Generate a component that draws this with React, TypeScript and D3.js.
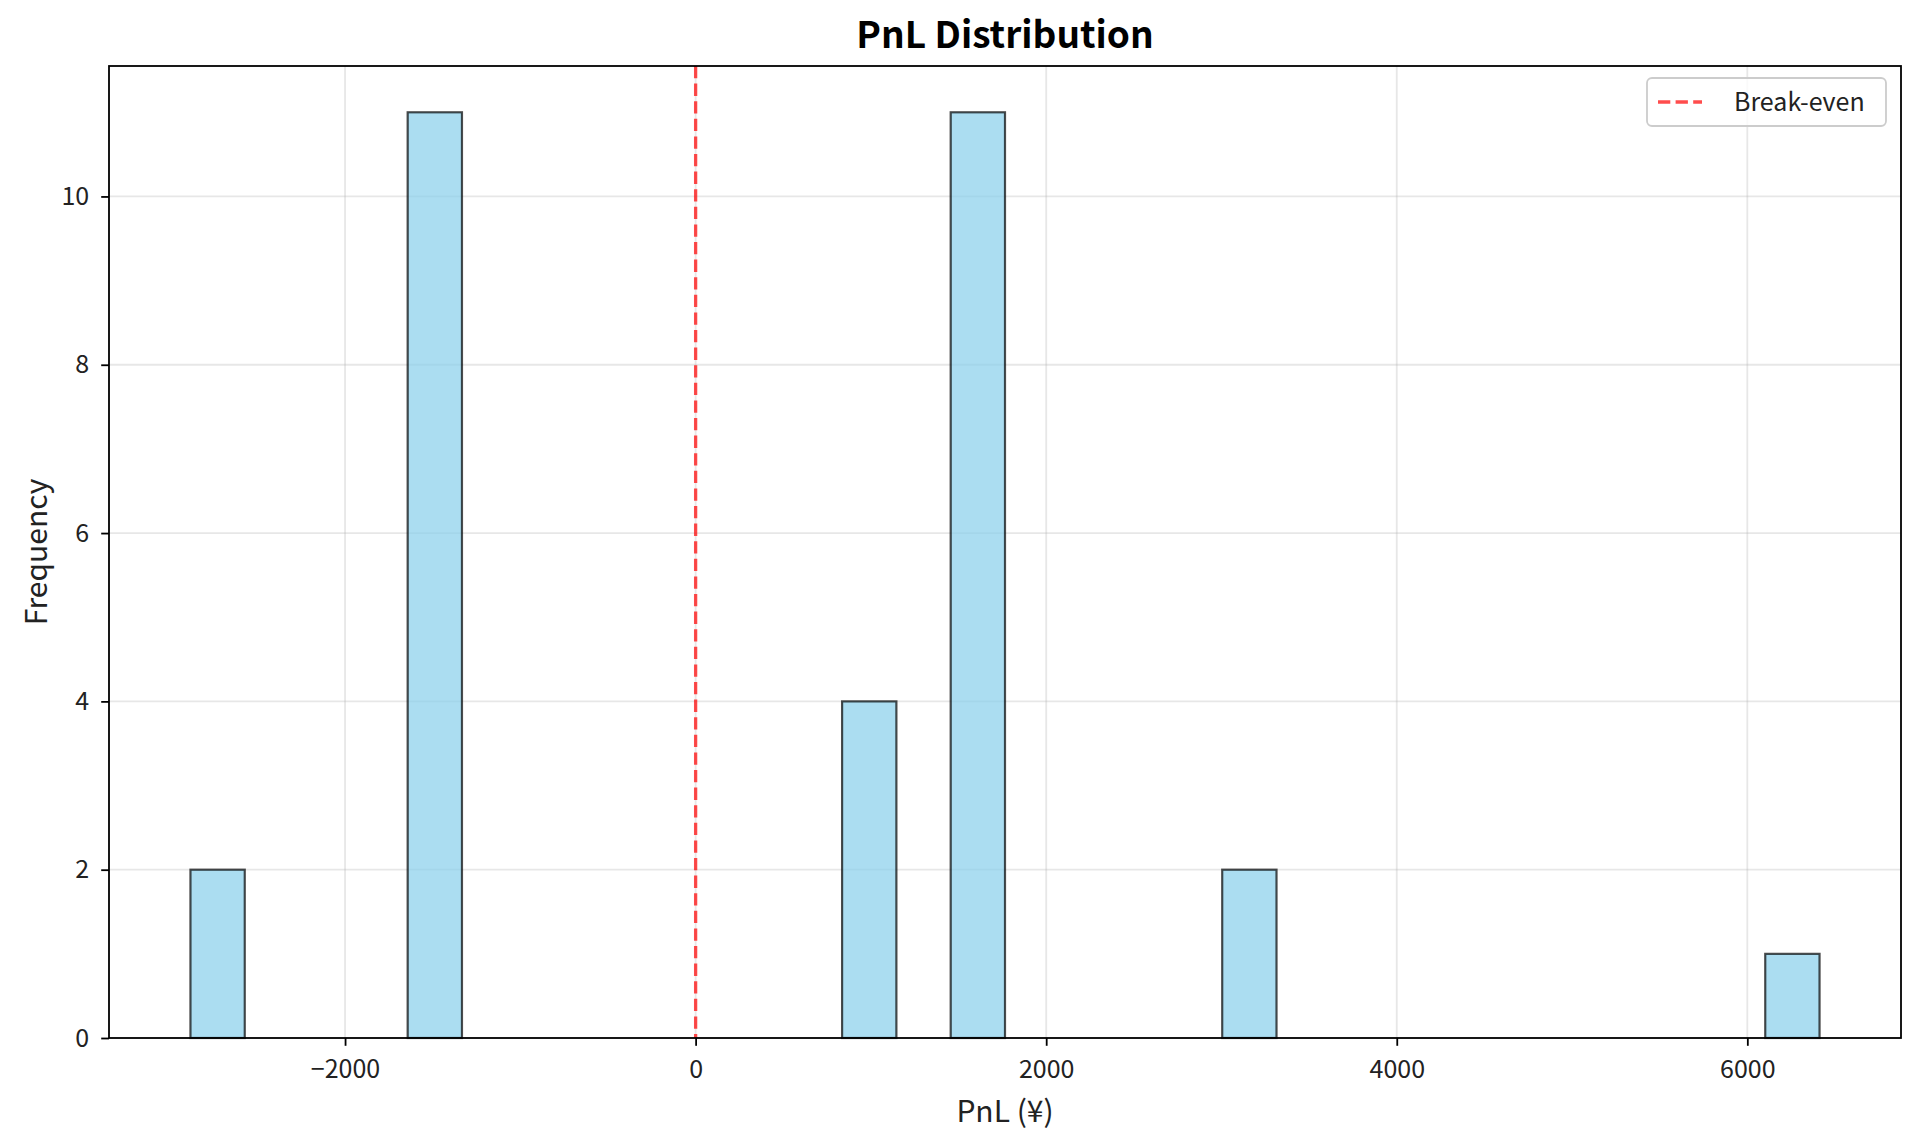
import React, { useEffect, useRef } from "react";
import * as d3 from "d3";

// histogram of pnl, 30 bins between the smallest and largest trade
const pnlMin = -2882;
const pnlMax = 6412;
const binCounts = [2, 0, 0, 0, 11, 0, 0, 0, 0, 0, 0, 0, 4, 0, 11, 0, 0, 0, 0, 2, 0, 0, 0, 0, 0, 0, 0, 0, 0, 1];
const xTicks = [-2000, 0, 2000, 4000, 6000];
const yTicks = [0, 2, 4, 6, 8, 10];
const breakEven = 0;

const FONT = "'Noto Sans CJK JP', 'DejaVu Sans', sans-serif";

export default function App() {
  const ref = useRef<SVGSVGElement>(null);

  useEffect(() => {
    document.body.style.margin = "0";
    const W = 1920, H = 1145;
    const margin = { top: 66, right: 19, bottom: 107, left: 109 };
    const w = W - margin.left - margin.right;
    const h = H - margin.top - margin.bottom;

    const svg = d3.select(ref.current);
    svg.selectAll("*").remove();

    // bin edges, same as matplotlib: equal width between min and max
    const step = (pnlMax - pnlMin) / binCounts.length;
    const bins = binCounts.map((c, i) => ({ x0: pnlMin + i * step, x1: pnlMin + (i + 1) * step, count: c }));

    // 5% padding on x like matplotlib autoscale
    const pad = (pnlMax - pnlMin) * 0.05;
    const x = d3.scaleLinear().domain([pnlMin - pad, pnlMax + pad]).range([0, w]);
    const yMax = d3.max(binCounts)! * 1.05;
    const y = d3.scaleLinear().domain([0, yMax]).range([h, 0]);

    const g = svg.append("g").attr("transform", `translate(${margin.left}, ${margin.top})`);

    // grid first so it sits under the bars
    g.append("g").selectAll("line").data(xTicks).join("line")
      .attr("x1", d => x(d)).attr("x2", d => x(d)).attr("y1", 0).attr("y2", h)
      .attr("stroke", "#b0b0b0").attr("stroke-opacity", 0.3).attr("stroke-width", 1.8);
    g.append("g").selectAll("line").data(yTicks).join("line")
      .attr("x1", 0).attr("x2", w).attr("y1", d => y(d)).attr("y2", d => y(d))
      .attr("stroke", "#b0b0b0").attr("stroke-opacity", 0.3).attr("stroke-width", 1.8);

    g.append("g").selectAll("rect").data(bins.filter(b => b.count > 0)).join("rect")
      .attr("x", d => x(d.x0))
      .attr("width", d => x(d.x1) - x(d.x0))
      .attr("y", d => y(d.count))
      .attr("height", d => y(0) - y(d.count))
      .attr("fill", "#87ceeb").attr("fill-opacity", 0.7)
      .attr("stroke", "black").attr("stroke-opacity", 0.7).attr("stroke-width", 2.2);

    // break-even line
    g.append("line")
      .attr("x1", x(breakEven)).attr("x2", x(breakEven)).attr("y1", 0).attr("y2", h)
      .attr("stroke", "red").attr("stroke-opacity", 0.7).attr("stroke-width", 3.3)
      .attr("stroke-dasharray", "12.3 5.3");

    // spines
    g.append("rect").attr("width", w).attr("height", h)
      .attr("fill", "none").attr("stroke", "black").attr("stroke-width", 1.8);

    // x axis
    const xAxis = g.append("g").attr("transform", `translate(0, ${h})`)
      .call(d3.axisBottom(x).tickValues(xTicks).tickSize(7.8).tickPadding(14)
        .tickFormat(d => (+d < 0 ? "\u2212" + Math.abs(+d) : String(d))));
    xAxis.select(".domain").remove();
    xAxis.selectAll("line").attr("stroke", "black").attr("stroke-width", 1.8);
    xAxis.selectAll("text").attr("font-family", FONT).attr("font-size", 25).attr("fill", "#222");

    // y axis
    const yAxis = g.append("g")
      .call(d3.axisLeft(y).tickValues(yTicks).tickSize(7.8).tickPadding(12));
    yAxis.select(".domain").remove();
    yAxis.selectAll("line").attr("stroke", "black").attr("stroke-width", 1.8);
    yAxis.selectAll("text").attr("font-family", FONT).attr("font-size", 25).attr("fill", "#222");

    // labels
    svg.append("text").attr("x", margin.left + w / 2).attr("y", 48)
      .attr("text-anchor", "middle").attr("font-family", FONT).attr("font-weight", "bold")
      .attr("font-size", 37).text("PnL Distribution");
    svg.append("text").attr("x", margin.left + w / 2).attr("y", 1122)
      .attr("text-anchor", "middle").attr("font-family", FONT).attr("font-size", 30)
      .attr("fill", "#222").text("PnL (¥)");
    svg.append("text").attr("transform", `translate(47, ${margin.top + h / 2}) rotate(-90)`)
      .attr("text-anchor", "middle").attr("font-family", FONT).attr("font-size", 30)
      .attr("fill", "#222").text("Frequency");

    // legend box upper right
    const lg = svg.append("g").attr("transform", `translate(1647, 78)`);
    lg.append("rect").attr("width", 239).attr("height", 48).attr("rx", 5)
      .attr("fill", "white").attr("fill-opacity", 0.8).attr("stroke", "#ccc").attr("stroke-width", 1.8);
    lg.append("line").attr("x1", 11).attr("x2", 55).attr("y1", 24).attr("y2", 24)
      .attr("stroke", "red").attr("stroke-opacity", 0.7).attr("stroke-width", 3.3)
      .attr("stroke-dasharray", "12.3 5.3");
    lg.append("text").attr("x", 87).attr("y", 33).attr("font-family", FONT)
      .attr("font-size", 25).attr("fill", "#222").text("Break-even");
  }, []);

  return <svg ref={ref} width={1920} height={1145} style={{ display: "block", background: "white" }} />;
}
